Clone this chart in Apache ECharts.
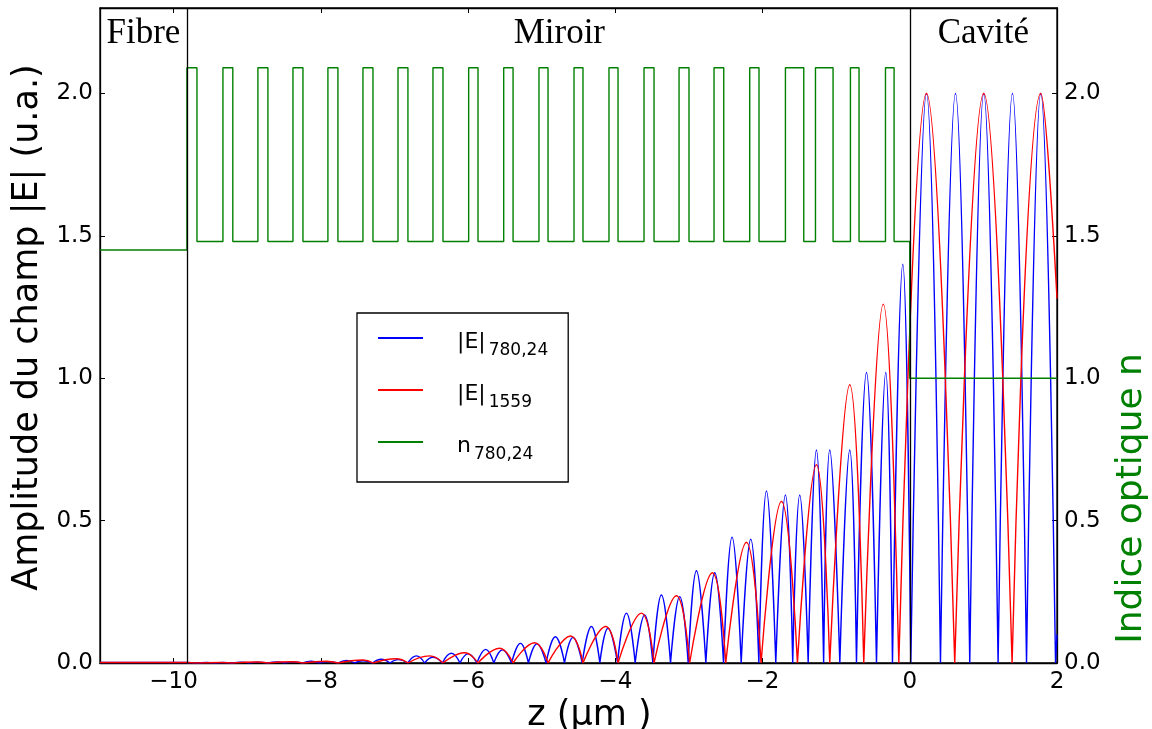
<!DOCTYPE html>
<html><head><meta charset="utf-8">
<script src="https://cdn.jsdelivr.net/npm/echarts@6/dist/echarts.min.js"></script>
<style>html,body{margin:0;padding:0;background:#fff}#c{width:1152px;height:729px}</style>
</head><body><div id="c"></div>
<script>
// ---- tick labels / regions ----
const xTicks = [-10, -8, -6, -4, -2, 0, 2];
const yTicks = [0, 0.5, 1.0, 1.5, 2.0];
const regionNames = ['Fibre', 'Miroir', 'Cavité'];
const regionBounds = [-11, -9.82, 0, 2];

// ---- optical index n (780,24) ----
const nFibre = 1.45, nHigh = 2.09, nLow = 1.48, nCavity = 1.0;
const pulseStart = [-9.819, -9.330, -8.855, -8.379, -7.904, -7.428, -6.952, -6.477, -5.992, -5.516, -5.037, -4.561, -4.086, -3.610, -3.134, -2.659, -2.174, -1.689, -1.281, -0.806, -0.330];
const pulseEnd   = [-9.683, -9.196, -8.719, -8.243, -7.768, -7.292, -6.817, -6.341, -5.865, -5.389, -4.914, -4.439, -3.963, -3.474, -2.999, -2.527, -2.048, -1.440, -1.042, -0.689, -0.213];

// ---- |E| 780,24 (blue): zeros and peaks of each arch ----
const blueFibre = [[-11, 0.002], [-9.82, 0.002], [-9.70, 0]];
const blueZeros = [-9.70, -9.44, -9.20, -8.97, -8.72, -8.49, -8.25, -8.02, -7.77, -7.54, -7.30, -7.06, -6.82, -6.59, -6.35, -6.11, -5.88, -5.65, -5.41, -5.18, -4.94, -4.69, -4.45, -4.21, -3.97, -3.73, -3.49, -3.25, -3.01, -2.77, -2.53, -2.29, -2.05, -1.82, -1.59, -1.38, -1.17, -0.95, -0.724, -0.452, -0.235, 0.014, 0.417, 0.815, 1.200, 1.586, 1.98];
const bluePeakX = [-9.55, -9.33, -9.08, -8.855, -8.60, -8.379, -8.13, -7.904, -7.65, -7.428, -7.18, -6.952, -6.702, -6.477, -6.227, -6.001, -5.761, -5.534, -5.289, -5.064, -4.814, -4.575, -4.325, -4.099, -3.849, -3.601, -3.374, -3.125, -2.898, -2.649, -2.414, -2.160, -1.947, -1.689, -1.495, -1.268, -1.087, -0.815, -0.588, -0.326, -0.095, 0.227, 0.621, 1.005, 1.395, 1.780];
const bluePeakY = [0.002, 0.002, 0.003, 0.003, 0.004, 0.004, 0.006, 0.005, 0.009, 0.008, 0.013, 0.012, 0.025, 0.020, 0.034, 0.032, 0.048, 0.046, 0.069, 0.067, 0.092, 0.090, 0.128, 0.122, 0.175, 0.169, 0.239, 0.233, 0.324, 0.317, 0.442, 0.435, 0.604, 0.590, 0.590, 0.748, 0.748, 0.748, 1.02, 1.02, 1.40, 2.0, 2.0, 2.0, 2.0, 2.0];
const blueEnd = [2.0, 0.10];

// ---- |E| 1559 (red) ----
const redFibre = [[-11, 0.002], [-9.82, 0.002], [-9.683, 0]];
const redZeros = [-9.683, -9.196, -8.719, -8.243, -7.768, -7.292, -6.817, -6.341, -5.865, -5.389, -4.914, -4.439, -3.963, -3.474, -2.990, -2.500, -2.020, -1.526, -1.087, -0.625, -0.149, 0.611, 1.390];
const redPeakX = [-9.37, -8.876, -8.401, -7.925, -7.428, -6.974, -6.522, -6.046, -5.571, -5.095, -4.606, -4.130, -3.645, -3.170, -2.681, -2.219, -1.743, -1.268, -0.815, -0.360, 0.227, 1.005, 1.780];
const redPeakY = [0.002, 0.0035, 0.0046, 0.006, 0.0105, 0.015, 0.025, 0.036, 0.052, 0.071, 0.095, 0.128, 0.175, 0.236, 0.317, 0.424, 0.567, 0.696, 0.977, 1.26, 2.0, 2.0, 2.0];
const redEnd = [2.0, 1.28];

// ---- build series data from the arrays above ----
function archData(fibre, zeros, px, py, end) {
  const d = fibre.slice();
  d.push(null);
  for (let i = 0; i < px.length; i++) {
    d.push([zeros[i], 0], [px[i], py[i]], i + 1 < zeros.length ? [zeros[i + 1], 0] : end);
    d.push(null);
  }
  if (zeros.length > px.length) d.push([zeros[zeros.length - 1], 0], end);
  return d;
}
function indexData() {
  const d = [[regionBounds[0], nFibre], [pulseStart[0], nFibre]];
  for (let i = 0; i < pulseStart.length; i++) {
    if (i > 0) d.push([pulseStart[i], nLow]);
    d.push([pulseStart[i], nHigh], [pulseEnd[i], nHigh], [pulseEnd[i], nLow]);
  }
  d.push([regionBounds[2], nLow], [regionBounds[2], nCavity], [regionBounds[3], nCavity]);
  return d;
}

const minus = v => (v < 0 ? '\u2212' + Math.abs(v) : String(v));
const sans = 'DejaVu Sans';
const chart = echarts.init(document.getElementById('c'), null, {renderer: 'canvas'});

const axisLineStyle = {show: true, onZero: false, lineStyle: {color: '#000', width: 1.3}};
const tickStyle = {show: true, inside: true, length: 5, lineStyle: {color: '#000', width: 1}};

chart.setOption({
  animation: false,
  backgroundColor: '#fff',
  grid: {left: 100, right: 95, top: 8, bottom: 66, containLabel: false, outerBoundsMode: 'none',
         show: true, borderColor: '#000', borderWidth: 1.3},
  legend: {
    orient: 'vertical', left: 357, top: 313,
    padding: [18, 20, 19, 21],
    borderColor: '#000', borderWidth: 1.3, backgroundColor: '#fff',
    itemWidth: 45, itemHeight: 2, itemGap: 24,
    data: [{name: 'b', icon: 'rect'}, {name: 'r', icon: 'rect'}, {name: 'g', icon: 'rect'}],
    formatter: name => ({b: '{m||E|}{s|780,24}', r: '{m||E|}{s|1559}', g: '{m|n}{s|780,24}'}[name]),
    textStyle: {
      rich: {
        m: {fontFamily: sans, fontSize: 22, color: '#000', padding: [8, 3, 0, 29]},
        s: {fontFamily: sans, fontSize: 17, color: '#000', padding: [25, 0, 0, 0]}
      }
    }
  },
  xAxis: [{
    type: 'value', min: regionBounds[0], max: regionBounds[3],
    name: 'z (\u03bcm )', nameLocation: 'middle', nameGap: 31,
    nameTextStyle: {fontFamily: sans, fontSize: 35, color: '#000', padding: [0, 0, 0, 22]},
    axisLine: axisLineStyle, splitLine: {show: false},
    axisTick: {...tickStyle, customValues: xTicks},
    axisLabel: {customValues: xTicks, formatter: minus, fontFamily: sans, fontSize: 23, color: '#000', margin: 8}
  }, {
    type: 'value', position: 'top', min: regionBounds[0], max: regionBounds[3],
    axisLine: axisLineStyle, splitLine: {show: false},
    axisTick: {...tickStyle, customValues: xTicks},
    axisLabel: {show: false}
  }],
  yAxis: [{
    type: 'value', min: 0, max: 2.3, position: 'left',
    name: 'Amplitude du champ |E| (u.a.)', nameLocation: 'middle', nameGap: 53, nameRotate: 90,
    nameTextStyle: {fontFamily: sans, fontSize: 35, color: '#000', padding: [0, 0, 0, 16]},
    axisLine: axisLineStyle, splitLine: {show: false},
    axisTick: {...tickStyle, customValues: yTicks},
    axisLabel: {customValues: yTicks, formatter: v => v.toFixed(1), fontFamily: sans, fontSize: 23, color: '#000', margin: 7}
  }, {
    type: 'value', min: 0, max: 2.3, position: 'right',
    name: 'Indice optique n', nameLocation: 'middle', nameGap: 57, nameRotate: 90,
    nameTextStyle: {fontFamily: sans, fontSize: 36, color: '#008000', padding: [0, 326, 0, 0]},
    axisLine: axisLineStyle, splitLine: {show: false},
    axisTick: {...tickStyle, customValues: yTicks},
    axisLabel: {customValues: yTicks, formatter: v => v.toFixed(1), fontFamily: sans, fontSize: 23, color: '#000', margin: 7}
  }],
  series: [{
    name: 'b', type: 'line', xAxisIndex: 0, yAxisIndex: 0, symbol: 'none', smooth: 0.45,
    lineStyle: {color: '#0000ff', width: 1.4}, itemStyle: {color: '#0000ff'},
    data: archData(blueFibre, blueZeros, bluePeakX, bluePeakY, blueEnd),
    markLine: {
      silent: true, symbol: 'none', label: {show: false},
      lineStyle: {color: '#000', width: 1.3, type: 'solid'},
      data: [{xAxis: regionBounds[1]}, {xAxis: regionBounds[2]}]
    },
    markArea: {
      silent: true, itemStyle: {color: 'rgba(0,0,0,0)'},
      label: {position: 'insideTop', distance: 8, fontFamily: 'Liberation Serif', fontSize: 35, color: '#000'},
      data: regionNames.map((nm, i) => [{name: nm, xAxis: regionBounds[i], label: i === 1 ? {offset: [11, 0]} : {}}, {xAxis: regionBounds[i + 1]}])
    }
  }, {
    name: 'r', type: 'line', xAxisIndex: 0, yAxisIndex: 0, symbol: 'none', smooth: 0.45,
    lineStyle: {color: '#ff0000', width: 1.4}, itemStyle: {color: '#ff0000'},
    data: archData(redFibre, redZeros, redPeakX, redPeakY, redEnd)
  }, {
    name: 'g', type: 'line', xAxisIndex: 0, yAxisIndex: 1, symbol: 'none',
    lineStyle: {color: '#008000', width: 1.4}, itemStyle: {color: '#008000'},
    data: indexData()
  }]
});
</script></body></html>
